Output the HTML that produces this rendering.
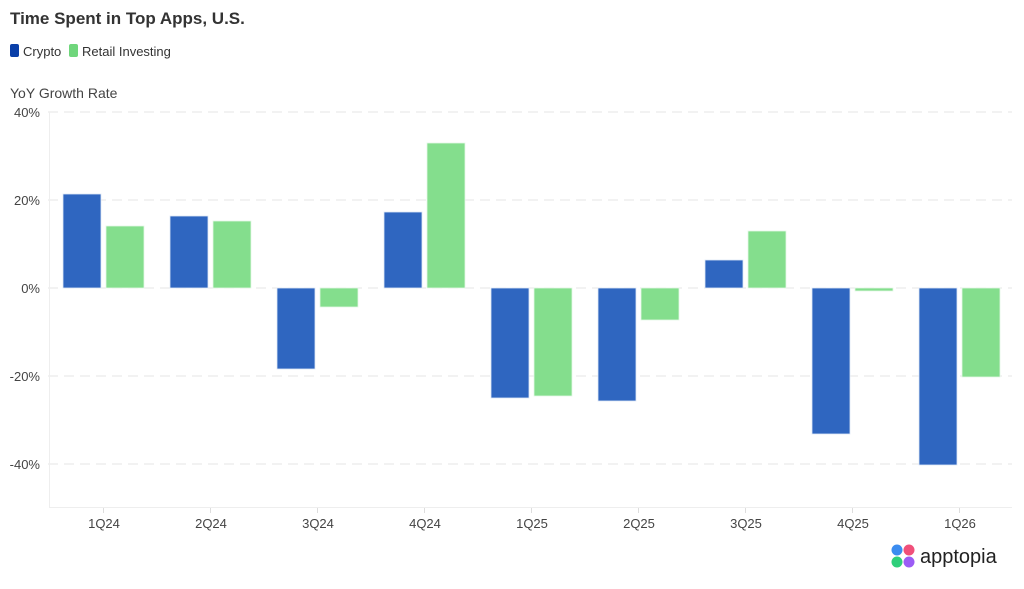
<!DOCTYPE html>
<html><head><meta charset="utf-8"><style>
body{margin:0;background:#fff;width:1024px;height:584px;overflow:hidden;font-family:"Liberation Sans",sans-serif}
</style></head><body>
<svg width="1024" height="584" xmlns="http://www.w3.org/2000/svg" font-family="Liberation Sans, sans-serif">
<text x="10" y="24" font-size="17" font-weight="bold" fill="#333">Time Spent in Top Apps, U.S.</text>
<rect x="10" y="44" width="9" height="13" rx="2" fill="#0a3fa8"/>
<text x="23" y="56" font-size="13" fill="#333">Crypto</text>
<rect x="69" y="44" width="9" height="13" rx="2" fill="#6fd67c"/>
<text x="82" y="56" font-size="13" fill="#333">Retail Investing</text>
<text x="10" y="98" font-size="14" fill="#444">YoY Growth Rate</text>
<g stroke="#e6e6e6" stroke-dasharray="10,6" stroke-width="1">
<line x1="48" y1="112" x2="1012" y2="112"/>
<line x1="48" y1="200" x2="1012" y2="200"/>
<line x1="48" y1="288" x2="1012" y2="288"/>
<line x1="48" y1="376" x2="1012" y2="376"/>
<line x1="48" y1="464" x2="1012" y2="464"/>
</g>
<line x1="49.5" y1="112" x2="49.5" y2="508" stroke="#eee"/>
<line x1="49" y1="507.5" x2="1012" y2="507.5" stroke="#eee"/>
<g stroke="#ddd">
<line x1="103.5" y1="508" x2="103.5" y2="513"/><line x1="210.5" y1="508" x2="210.5" y2="513"/>
<line x1="317.5" y1="508" x2="317.5" y2="513"/><line x1="424.5" y1="508" x2="424.5" y2="513"/>
<line x1="531.5" y1="508" x2="531.5" y2="513"/><line x1="638.5" y1="508" x2="638.5" y2="513"/>
<line x1="745.5" y1="508" x2="745.5" y2="513"/><line x1="852.5" y1="508" x2="852.5" y2="513"/>
<line x1="959.5" y1="508" x2="959.5" y2="513"/>
</g>
<g font-size="13" fill="#444" text-anchor="end">
<text x="40" y="117">40%</text><text x="40" y="205">20%</text><text x="40" y="293">0%</text>
<text x="40" y="381">-20%</text><text x="40" y="469">-40%</text>
</g>
<g fill="#2f66c0" stroke="#dfe8f6" stroke-width="0.8">
<rect x="63" y="194" width="38" height="94"/>
<rect x="170" y="216" width="38" height="72"/>
<rect x="277" y="288" width="38" height="81"/>
<rect x="384" y="212" width="38" height="76"/>
<rect x="491" y="288" width="38" height="110"/>
<rect x="598" y="288" width="38" height="113"/>
<rect x="705" y="260" width="38" height="28"/>
<rect x="812" y="288" width="38" height="146"/>
<rect x="919" y="288" width="38" height="177"/>
</g>
<g fill="#84de8d" stroke="#e4f7e6" stroke-width="0.8">
<rect x="106" y="226" width="38" height="62"/>
<rect x="213" y="221" width="38" height="67"/>
<rect x="320" y="288" width="38" height="19"/>
<rect x="427" y="143" width="38" height="145"/>
<rect x="534" y="288" width="38" height="108"/>
<rect x="641" y="288" width="38" height="32"/>
<rect x="748" y="231" width="38" height="57"/>
<rect x="855" y="288" width="38" height="3"/>
<rect x="962" y="288" width="38" height="89"/>
</g>
<g font-size="13" fill="#444" text-anchor="middle">
<text x="104" y="528">1Q24</text><text x="211" y="528">2Q24</text><text x="318" y="528">3Q24</text>
<text x="425" y="528">4Q24</text><text x="532" y="528">1Q25</text><text x="639" y="528">2Q25</text>
<text x="746" y="528">3Q25</text><text x="853" y="528">4Q25</text><text x="960" y="528">1Q26</text>
</g>
<g>
<circle cx="897" cy="550" r="5.5" fill="#3b8cf0"/>
<circle cx="909" cy="550" r="5.5" fill="#f0507a"/>
<circle cx="897" cy="562" r="5.5" fill="#2fcf7a"/>
<circle cx="909" cy="562" r="5.5" fill="#9b5cf5"/>
<text x="920" y="563" font-size="20" fill="#222">apptopia</text>
</g>
</svg>
</body></html>
